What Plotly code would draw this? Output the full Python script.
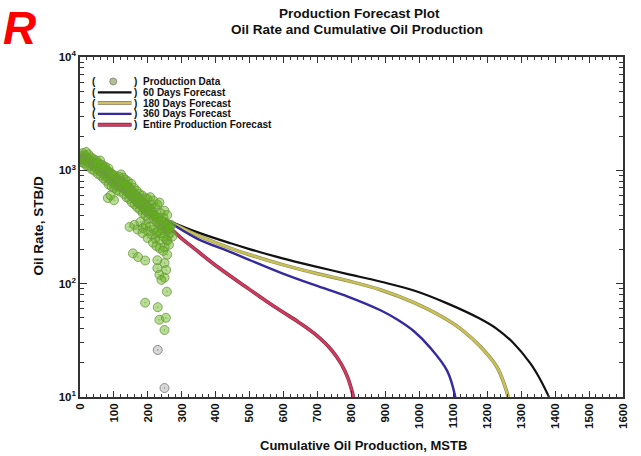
import plotly.graph_objects as go

# ---------------- data ----------------
prod_cum = [1, 3, 4, 6, 8, 9, 11, 13, 14, 16, 18, 19, 21, 23, 25, 27, 29, 31, 33, 35, 37, 39, 41, 43, 45, 47, 49,
            51, 53, 55, 57, 59, 61, 63, 65, 67, 69, 71, 73, 75, 77, 79, 81, 83, 85, 87, 89, 91, 93, 95, 97, 99,
            101, 103, 105, 107, 109, 111, 113, 115, 117, 119, 82, 100, 90,
            121, 123, 125, 127, 129, 131, 133, 135, 137, 139, 141, 143, 145, 147, 149, 151, 153, 155, 157, 159,
            161, 163, 165, 167, 169, 171, 173, 175, 177, 179, 181, 183, 185, 187, 189, 191, 193, 195, 197, 199,
            201, 203,
            160, 170, 178, 186, 194, 200, 206, 212, 218, 222, 226,
            146, 156, 171, 184, 192, 199, 192,
            207, 210, 213, 216, 219, 222, 225, 228, 231, 234, 237, 240, 243, 246, 249, 252, 255, 257, 260, 263,
            266, 269, 272, 254, 234, 249, 257, 228, 249, 228, 254, 234, 249, 240, 256, 229, 234, 253, 249, 229, 249,
            102, 106, 110, 114, 118, 122, 126, 130, 134, 138, 142, 146, 150, 154, 158, 162, 166, 170, 174, 178,
            182, 186, 190, 194, 198, 202, 206, 210, 214, 218, 222, 226, 230, 236, 240, 244, 248, 252, 256, 260,
            264, 258, 262, 246, 238, 230, 50, 60, 70, 80, 90, 96, 64, 74, 84, 215, 225, 235, 245]
prod_rate = [1250, 1350, 1180, 1300, 1420, 1220, 1280, 1150, 1360, 1250, 1450, 1100, 1300, 1200, 1380, 1080, 1250,
             1150, 1300, 1020, 1180, 1100, 1250, 990, 1150, 1060, 1220,
             1050, 930, 1150, 990, 1220, 900, 1040, 950, 1100, 850, 980, 1030, 900, 810, 950, 860, 980, 750, 880,
             820, 930, 720, 840, 780, 880, 700, 800, 750, 840, 670, 780, 720, 800, 650, 740, 570, 545, 600,
             920, 800, 700, 860, 620, 760, 830, 680, 580, 740, 800, 640, 560, 700, 600, 760, 520, 650, 580, 700,
             500, 610, 540, 660, 470, 580, 510, 620, 450, 540, 490, 600, 420, 510, 460, 570, 400, 490, 440, 560,
             370, 470,
             330, 300, 350, 310, 330, 290, 320, 270, 300, 250, 280,
             317, 185, 172, 280, 160, 253, 68,
             580, 500, 430, 540, 400, 470, 380, 500, 350, 520, 420, 330, 297, 380, 440, 340, 300, 403, 268, 330,
             280, 329, 260, 243, 243, 210, 180, 161, 152, 137, 132, 120, 113, 108, 85, 62, 48, 50, 39, 26, 12,
             900, 860, 820, 880, 780, 740, 760, 700, 740, 650, 700, 620, 660, 580, 620, 560, 590, 520, 560, 500,
             530, 470, 500, 440, 470, 420, 450, 400, 420, 370, 400, 350, 380, 330, 360, 320, 350, 310, 330, 300,
             310, 240, 220, 260, 280, 290, 1150, 1050, 1050, 1000, 950, 920, 1120, 1080, 1040, 230, 215, 205, 195]

f60_cum = [250, 345, 444, 497, 594, 692, 789, 887, 984, 1082, 1179, 1228, 1277, 1326, 1355, 1382]
f60_rate = [370, 285, 227, 203, 168, 142, 121.5, 104, 87, 67, 49, 40, 30, 20, 14.5, 10]

f180_cum = [250, 345, 444, 497, 594, 692, 789, 887, 984, 1082, 1131, 1179, 1228, 1250, 1262]
f180_rate = [370, 268, 205, 181, 148, 124, 106, 88, 68, 48, 38, 28, 18.5, 13, 10]

f360_cum = [250, 345, 444, 497, 594, 692, 789, 887, 936, 984, 1033, 1082, 1106]
f360_rate = [370, 250, 190, 163, 124, 97, 77, 58, 48, 38, 27, 17, 10]

fall_cum = [255, 300, 336, 409, 497, 546, 594, 643, 692, 741, 770, 789, 806]
fall_rate = [330, 250, 205, 138, 90, 71, 57, 46, 36, 26, 19.5, 14.8, 10]

x_ticks = list(range(0, 1601, 100))
y_ticks = [10, 100, 1000, 10000]
y_ticktext = ["10<sup>1</sup>", "10<sup>2</sup>", "10<sup>3</sup>", "10<sup>4</sup>"]

legend_labels = ["Production Data", "60 Days Forecast", "180 Days Forecast",
                 "360 Days Forecast", "Entire Production Forecast"]

# ---------------- layout geometry ----------------
W, H = 641, 456
L, R, T, B = 80, 13, 57, 59
PW, PH = W - L - R, H - T - B
FONT = "Liberation Sans, Arial, sans-serif"


def px_x(px):
    return (px - L) / PW


def px_y(py):
    return (H - B - py) / PH


fig = go.Figure()

line_styles = [
    (f60_cum, f60_rate, "#111111", 2.2, None),
    (f180_cum, f180_rate, "#c9c253", 2.4, "#8d8a66"),
    (f360_cum, f360_rate, "#3529a0", 2.4, None),
    (fall_cum, fall_rate, "#d4395f", 2.4, "#7a3040"),
]
for cx, cy, col, w, edge in line_styles:
    if edge:
        fig.add_trace(go.Scatter(x=cx, y=cy, mode="lines", line=dict(color=edge, width=w + 1.2, shape="spline"),
                                 hoverinfo="skip", showlegend=False))
    fig.add_trace(go.Scatter(x=cx, y=cy, mode="lines", line=dict(color=col, width=w, shape="spline"),
                             showlegend=False))

marker_fill = ["rgba(190,190,190,0.6)" if r < 30 else "rgba(95,180,15,0.45)" for r in prod_rate]
marker_edge = ["rgba(130,130,130,0.9)" if r < 30 else "rgba(110,150,70,0.8)" for r in prod_rate]
fig.add_trace(go.Scatter(x=prod_cum, y=prod_rate, mode="markers",
                         marker=dict(symbol="circle-dot", size=9, color=marker_fill,
                                     line=dict(color=marker_edge, width=1)),
                         showlegend=False))

axis_common = dict(ticks="inside", showline=True, linecolor="#333", linewidth=1.5, mirror="ticks",
                   showgrid=False, zeroline=False, tickcolor="#333", tickwidth=1.2,
                   tickfont=dict(family=FONT, size=11.5, color="#111", weight="bold"))

minor_y = [m * 10 ** k for k in range(1, 4) for m in range(2, 10)]
fig.update_xaxes(range=[0, 1600], tickvals=x_ticks, ticktext=[str(v) for v in x_ticks], tickangle=-90,
                 ticklen=6, minor=dict(dtick=20, tick0=0, ticks="inside", ticklen=3, tickcolor="#333"),
                 **axis_common)
fig.update_yaxes(type="log", range=[1, 4], tickvals=y_ticks, ticktext=y_ticktext, ticklen=7,
                 minor=dict(tickvals=minor_y, ticks="inside", ticklen=4, tickcolor="#333"),
                 **axis_common)

ann = []
shapes = []
bold = dict(family=FONT, color="#111", weight="bold")
# titles
ann.append(dict(x=px_x(362), y=px_y(13), text="Production Forecast Plot", font=dict(size=13.5, **bold)))
ann.append(dict(x=px_x(360), y=px_y(29), text="Oil Rate and Cumulative Oil Production", font=dict(size=13.5, **bold)))
ann.append(dict(x=px_x(366), y=px_y(445), text="Cumulative Oil Production, MSTB", font=dict(size=13, **bold)))
ann.append(dict(x=px_x(38), y=px_y(226), text="Oil Rate, STB/D", textangle=-90, font=dict(size=13.5, **bold)))
ann.append(dict(x=px_x(0), y=px_y(0), text="R", xanchor="left", yanchor="top",
                font=dict(family=FONT, size=46, color="#ff0000", weight="bold", style="italic")))

# legend (custom, with parentheses)
row0, gap = 81.5, 10.8
line_colors = [None, ("#111111", None, 2.2), ("#d2bf6a", "#8d8a80", 2.4), ("#3529a0", None, 2.4),
               ("#d4395f", "#7a3040", 2.4)]
for i, lab in enumerate(legend_labels):
    py = row0 + i * gap
    ann.append(dict(x=px_x(94), y=px_y(py), text="(", font=dict(size=10, **bold)))
    ann.append(dict(x=px_x(136), y=px_y(py), text=")", font=dict(size=10, **bold)))
    ann.append(dict(x=px_x(142), y=px_y(py), text=lab, xanchor="left", font=dict(size=10, **bold)))
    if i == 0:
        shapes.append(dict(type="circle", xref="paper", yref="paper",
                           x0=px_x(110), x1=px_x(117), y0=px_y(py + 3.5), y1=px_y(py - 3.5),
                           fillcolor="rgba(160,175,130,0.8)", line=dict(color="rgba(130,140,110,0.9)", width=1)))
    else:
        col, edge, w = line_colors[i]
        if edge:
            shapes.append(dict(type="line", xref="paper", yref="paper", x0=px_x(98), x1=px_x(132),
                               y0=px_y(py), y1=px_y(py), line=dict(color=edge, width=w + 1.6)))
        shapes.append(dict(type="line", xref="paper", yref="paper", x0=px_x(98), x1=px_x(132),
                           y0=px_y(py), y1=px_y(py), line=dict(color=col, width=w)))

for a in ann:
    a.setdefault("xref", "paper")
    a.setdefault("yref", "paper")
    a.setdefault("showarrow", False)
    a.setdefault("xanchor", "center")
    a.setdefault("yanchor", "middle")

fig.update_layout(width=W, height=H, margin=dict(l=L, r=R, t=T, b=B),
                  paper_bgcolor="white", plot_bgcolor="white",
                  annotations=ann, shapes=shapes, showlegend=False,
                  font=dict(family=FONT))

fig.write_html("out.html")
